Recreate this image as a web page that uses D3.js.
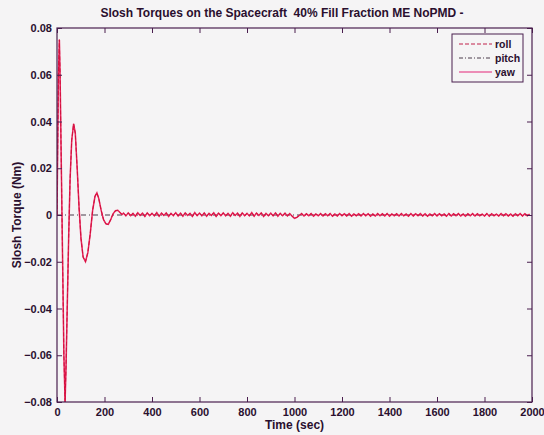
<!DOCTYPE html>
<html><head><meta charset="utf-8">
<script src="https://cdn.jsdelivr.net/npm/d3@7"></script>
<style>
html,body{margin:0;padding:0;background:#f5f4f5;}
svg{display:block;font-family:"Liberation Sans",Arial,sans-serif;}
</style></head>
<body>
<script>
// ---- data ----
const chartTitle = "Slosh Torques on the Spacecraft  40% Fill Fraction ME NoPMD -";
const xTicks = [0,200,400,600,800,1000,1200,1400,1600,1800,2000];
const yTicks = [-0.08,-0.06,-0.04,-0.02,0,0.02,0.04,0.06,0.08];
const legendNames = ["roll","pitch","yaw"];
// damped oscillation part of yaw torque (time s, value Nm)
const oscTime = [0,3,6,10,13,17,21,25,29,34,38,43,49,55,62,70,77,85,93,101,110,120,130,140,150,160,168,176,186,196,206,216,226,236,246,256,266,274];
const oscValue = [0,0.03,0.06,0.075,0.06,0.03,0,-0.03,-0.06,-0.08,-0.065,-0.04,-0.01,0.015,0.032,0.039,0.035,0.02,0.003,-0.01,-0.018,-0.02,-0.016,-0.008,0.002,0.008,0.0095,0.007,0.002,-0.002,-0.0038,-0.004,-0.002,0.0005,0.0018,0.002,0.001,0.0002];
// residual noise, sampled every 10 s from 280 s to 1990 s
const noiseStart = 280, noiseStep = 10;
const noiseValue = [
0.0008,-0.0004,0.0009,-0.0003,0.0007,-0.0005,0.0010,-0.0002,0.0008,-0.0006,
0.0009,-0.0003,0.0007,-0.0004,0.0010,-0.0005,0.0008,-0.0002,0.0009,-0.0006,
0.0007,-0.0003,0.0010,-0.0004,0.0008,-0.0005,0.0009,-0.0002,0.0007,-0.0006,
0.0010,-0.0003,0.0008,-0.0004,0.0009,-0.0005,0.0007,-0.0002,0.0010,-0.0006,
0.0008,-0.0003,0.0009,-0.0004,0.0007,-0.0005,0.0010,-0.0002,0.0008,-0.0006,
0.0009,-0.0003,0.0007,-0.0004,0.0010,-0.0005,0.0008,-0.0002,0.0009,-0.0006,
0.0007,-0.0003,0.0008,-0.0004,0.0009,-0.0005,0.0007,-0.0003,0.0008,-0.0004,
0.0006,-0.0005,
-0.0014,-0.0010,-0.0002,
0.0006,-0.0004,0.0005,-0.0003,0.0006,-0.0005,0.0004,-0.0003,0.0006,-0.0004,
0.0005,-0.0003,0.0006,-0.0005,0.0004,-0.0004,0.0006,-0.0003,0.0005,-0.0004,
0.0006,-0.0005,0.0004,-0.0003,0.0005,-0.0004,0.0006,-0.0003,0.0005,-0.0005,
0.0004,-0.0004,0.0006,-0.0003,0.0005,-0.0004,0.0006,-0.0005,0.0004,-0.0003,
0.0005,-0.0004,0.0006,-0.0003,0.0004,-0.0005,0.0006,-0.0004,0.0005,-0.0003,
0.0006,-0.0004,0.0005,-0.0005,0.0004,-0.0003,0.0006,-0.0004,0.0005,-0.0003,
0.0004,-0.0005,0.0006,-0.0004,0.0005,-0.0003,0.0006,-0.0004,0.0004,-0.0005,
0.0005,-0.0003,0.0006,-0.0004,0.0005,-0.0003,0.0004,-0.0004,0.0006,-0.0005,
0.0005,-0.0003,0.0004,-0.0004,0.0006,-0.0003,0.0005,-0.0004,0.0004,-0.0005,
0.0005,-0.0003,0.0006,-0.0004,0.0005,-0.0003,0.0004
];
const pitchTime = [0,2000];
const pitchValue = [0,0];

// ---- build series ----
const yawPts = oscTime.map((t,i)=>[t,oscValue[i]])
  .concat(noiseValue.map((v,i)=>[noiseStart+i*noiseStep, v]));
const rollPts = yawPts;
const pitchPts = pitchTime.map((t,i)=>[t,pitchValue[i]]);

const W=544,H=435;
const m={left:57,right:12,top:28,bottom:33};
const axisCol="#4a1f4f", textCol="#2a0f2e";
const svg=d3.select("body").append("svg").attr("width",W).attr("height",H);
svg.append("rect").attr("width",W).attr("height",H).attr("fill","#f5f4f5");

const x=d3.scaleLinear().domain([0,2000]).range([m.left,W-m.right]);
const y=d3.scaleLinear().domain([-0.08,0.08]).range([H-m.bottom,m.top]);

svg.append("defs").append("clipPath").attr("id","clip")
  .append("rect").attr("x",x(0)).attr("y",y(0.08)).attr("width",x(2000)-x(0)).attr("height",y(-0.08)-y(0.08));

const line=d3.line().x(d=>x(d[0])).y(d=>y(d[1]));
const g=svg.append("g").attr("clip-path","url(#clip)");
g.append("path").datum(pitchPts).attr("d",line).attr("fill","none")
  .attr("stroke","#4a3a4a").attr("stroke-width",1).attr("stroke-dasharray","5,3,1,3");
g.append("path").datum(yawPts).attr("d",line).attr("fill","none")
  .attr("stroke","#e8245a").attr("stroke-width",1.5);
g.append("path").datum(rollPts).attr("d",line).attr("fill","none")
  .attr("stroke","#d0103c").attr("stroke-width",1).attr("stroke-dasharray","4,2");

// axes
const tickLen=5;
function styleAxis(sel){
  sel.selectAll(".domain").remove();
  sel.selectAll("line").attr("stroke",axisCol);
  sel.selectAll("text").attr("fill",textCol).style("font-size","11px").style("font-weight","bold");
}
svg.append("g").attr("transform",`translate(0,${y(-0.08)})`)
  .call(d3.axisBottom(x).tickValues(xTicks).tickSize(-tickLen).tickPadding(6).tickFormat(d3.format("d")))
  .call(styleAxis);
svg.append("g").attr("transform",`translate(0,${y(0.08)})`)
  .call(d3.axisTop(x).tickValues(xTicks).tickSize(-tickLen).tickFormat(""))
  .call(styleAxis);
svg.append("g").attr("transform",`translate(${x(0)},0)`)
  .call(d3.axisLeft(y).tickValues(yTicks).tickSize(-tickLen).tickPadding(5).tickFormat(d=>d===0?"0":d3.format(".2f")(d)))
  .call(styleAxis);
svg.append("g").attr("transform",`translate(${x(2000)},0)`)
  .call(d3.axisRight(y).tickValues(yTicks).tickSize(-tickLen).tickFormat(""))
  .call(styleAxis);
svg.append("rect").attr("x",x(0)).attr("y",y(0.08)).attr("width",x(2000)-x(0)).attr("height",y(-0.08)-y(0.08))
  .attr("fill","none").attr("stroke",axisCol).attr("stroke-width",1.2);

// titles
svg.append("text").attr("x",282).attr("y",17).attr("text-anchor","middle")
  .attr("fill",textCol).style("font-size","12px").style("font-weight","bold")
  .style("white-space","pre").attr("xml:space","preserve").text(chartTitle);
svg.append("text").attr("x",(x(0)+x(2000))/2).attr("y",429).attr("text-anchor","middle")
  .attr("fill",textCol).style("font-size","12px").style("font-weight","bold").text("Time (sec)");
svg.append("text").attr("transform",`translate(21,${y(0)}) rotate(-90)`).attr("text-anchor","middle")
  .attr("fill",textCol).style("font-size","12px").style("font-weight","bold").text("Slosh Torque (Nm)");

// legend
const lg=svg.append("g").attr("transform","translate(452,34)");
lg.append("rect").attr("width",71).attr("height",48).attr("fill","#f5f4f5").attr("stroke",axisCol).attr("stroke-width",1);
const legStyles=[{c:"#c0204a",d:"4,2",w:1},{c:"#4a3a4a",d:"4,2,1,2",w:1},{c:"#e86aa0",d:null,w:1.3}];
legendNames.forEach((n,i)=>{
  const yy=10+i*14;
  lg.append("line").attr("x1",7).attr("x2",40).attr("y1",yy).attr("y2",yy)
    .attr("stroke",legStyles[i].c).attr("stroke-width",legStyles[i].w)
    .attr("stroke-dasharray",legStyles[i].d);
  lg.append("text").attr("x",43).attr("y",yy+4).attr("fill",textCol)
    .style("font-size","10.5px").style("font-weight","bold").text(n);
});
</script>
</body></html>
